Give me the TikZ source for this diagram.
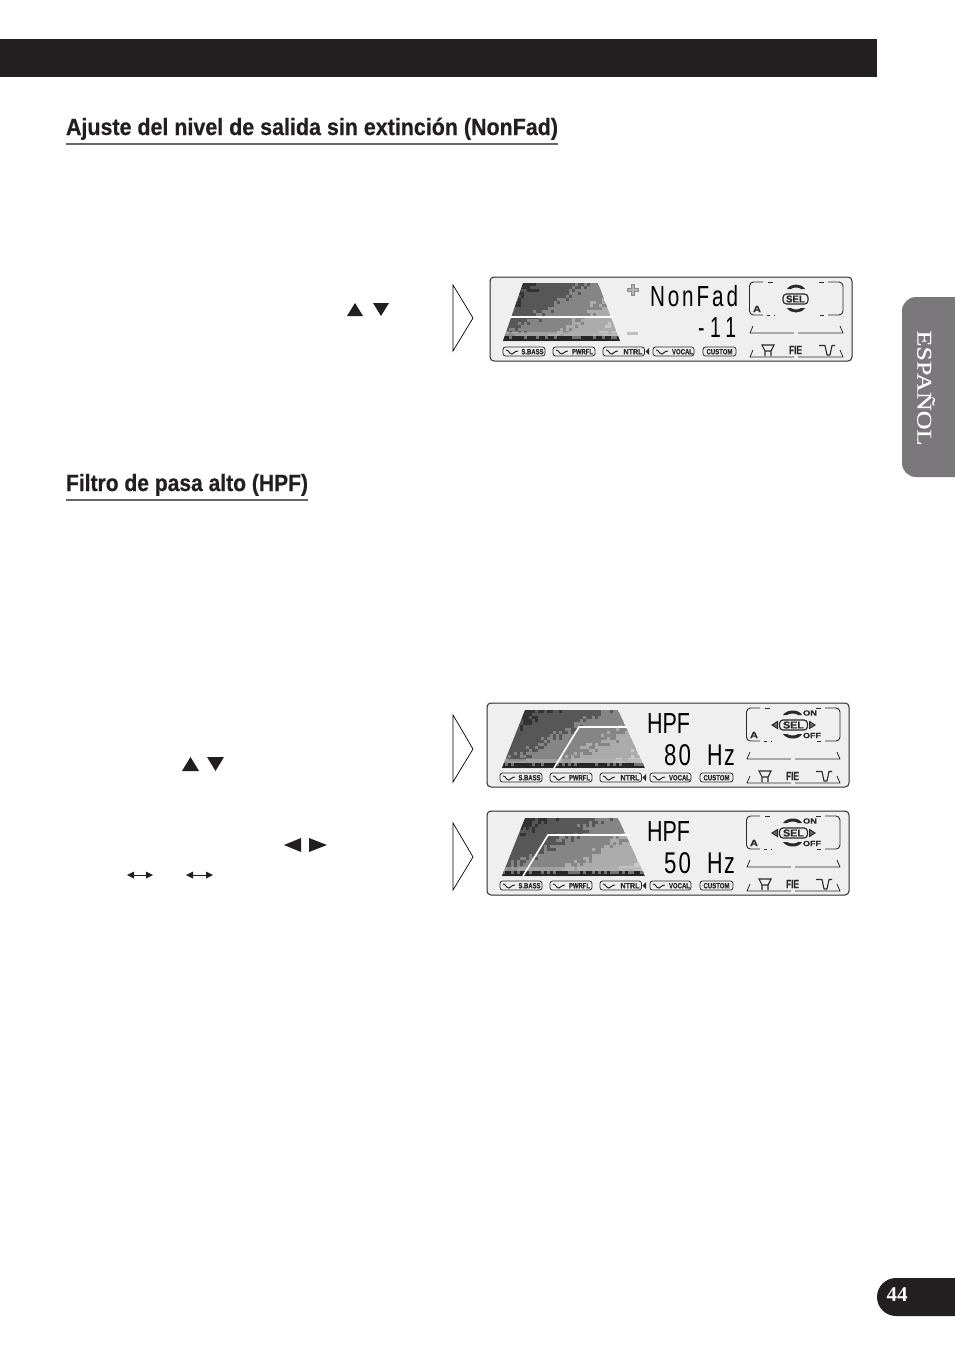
\documentclass[tikz,border=0pt]{standalone}
\usepackage{fontspec}
\usepackage{graphicx}
\setmainfont{Liberation Sans}
\newfontfamily\serifx{Liberation Serif}
\newfontfamily\heavy[BoldFont={* Bold},BoldFeatures={FakeBold=0.6}]{Liberation Sans}
\definecolor{ink}{HTML}{231F20}
\definecolor{tabgray}{HTML}{7A787A}
\definecolor{lcdbg}{HTML}{EFEFEF}
\definecolor{lcdink}{HTML}{2A2A2A}
\newcommand{\fit}[3]{\resizebox{#1pt}{\height}{\fontsize{#2}{#2}\selectfont #3}}
\tikzset{
  x=1pt,y=-1pt,
  txt/.style={inner sep=0pt,outer sep=0pt,text=ink},
  btn/.style={draw=lcdink,line width=.8pt,rounded corners=2.5pt,fill=lcdbg},
  lcdline/.style={draw=lcdink,line width=.8pt},
  chev/.style={draw=black,line width=.7pt,fill=white,line join=miter},
  solidtri/.style={fill=ink,draw=none},
  headrule/.style={draw=black!60,line width=1.4pt},
}
\newcommand{\lcdbtn}[6]{%
  \draw[btn] (#2,70) rectangle (#3,79);
  \draw[lcdink,line width=1pt] (#2+3,73) .. controls (#2+6,73) and (#2+6,77) .. (#2+9,77) .. controls (#2+11,77) and (#2+11,74) .. (#2+15,74);
  \node[txt,text=lcdink,anchor=center] (#1) at (#6,74.7) {\fit{#5}{7.5pt}{\heavy\bfseries #4}};
}
\newcommand{\dither}[8]{%
  \begin{scope}
  \clip (#1,#5) -- (#2,#5) -- (#4,#6) -- (#3,#6) -- cycle;
  \foreach \i in {0,...,#7}{
    \foreach \j in {0,...,#8}{
      \pgfmathsetmacro{\px}{#3+\i*3}
      \pgfmathsetmacro{\py}{#5+\j*3}
      \pgfmathsetmacro{\tv}{\i/#7*1.0+\j/#8*0.72-0.1}
      \pgfmathtruncatemacro{\lv}{max(0,min(4,int(\tv*2.6+0.2+rnd*0.55)))}
      \pgfmathtruncatemacro{\shadev}{ifthenelse(\lv==0,80,ifthenelse(\lv==1,66,ifthenelse(\lv==2,48,ifthenelse(\lv==3,33,22))))}
      \fill[black!\shadev!white] (\px,\py) rectangle +(3.05,3.05);
    }
  }
  \fill[black!30,opacity=.6] (#3,#6-9) rectangle (#4,#6-5);
  \fill[black!85] (#3,#6-5) rectangle (#4,#6);
  \foreach \i in {0,...,#7}{
    \pgfmathsetmacro{\px}{#3+\i*3}
    \pgfmathtruncatemacro{\dotv}{ifthenelse(rnd<(0.2+0.35*\i/#7),1,0)}
    \ifnum\dotv=1
      \fill[black!55] (\px,#6-5) rectangle +(3,2.5);
    \fi
  }
  \end{scope}
}
\newcommand{\rightblock}{%
  \draw[lcdline,line width=.9pt,rounded corners=4pt] (273,5) -- (259.5,5) -- (259.5,38) -- (273,38);
  \draw[lcdline,line width=.9pt,rounded corners=4pt] (338,5) -- (353,5) -- (353,38) -- (338,38);
  \draw[lcdline,line width=.9pt] (278,5) -- (283,5) (329,5) -- (334,5);
  \draw[lcdline,line width=.9pt] (277,38) -- (280,38) (284,38) -- (285,38) (330,38) -- (334,38);
  \node[txt,text=lcdink] (aflag) at (267,32) {\fit{8}{9pt}{\heavy\bfseries A}};
  \draw[lcdline,line join=round] (263,49) -- (260,56) -- (304,56);
  \draw[lcdline,line join=round] (308,56) -- (353,56) -- (350,49);
  \draw[lcdline,line join=round] (263,73) -- (260,80) -- (304,80);
  \draw[lcdline,line join=round] (308,80) -- (353,80) -- (350,73);
  \draw[lcdink,line width=1.1pt] (272,68) -- (284,68) -- (281,74) -- (275,74) -- cycle (275,74) -- (275,79) (281,74) -- (281,79);
  \draw[lcdink,line width=1.1pt,line join=round] (329,68.5) -- (335,68.5) -- (337,78) -- (340,78) -- (342,68.5) -- (345,68.5);
  \node[txt,text=lcdink] (fie) at (305.5,73) {\fit{13}{12pt}{\heavy\bfseries FIE}};
}
\newcommand{\buttonrow}{%
  \lcdbtn{sbass}{13}{55}{S.BASS}{22}{42.5}
  \lcdbtn{pwrfl}{63}{105}{PWRFL}{21}{92.5}
  \lcdbtn{ntrl}{113}{154.5}{NTRL}{19}{143}
  \fill[lcdink] (155.5,74.5) -- (159,71) -- (159,78) -- cycle;
  \lcdbtn{vocal}{163}{204}{VOCAL}{21}{192.5}
  \draw[btn] (213,70) rectangle (246,79);
  \node[txt,text=lcdink] (custom) at (229.5,74.7) {\fit{26}{7.5pt}{\heavy\bfseries CUSTOM}};
}
\newcommand{\hpfsel}{%
  \node[txt,text=lcdink,draw=lcdink,line width=1.2pt,rounded corners=3.5pt,minimum width=28pt,minimum height=10pt] (sel) at (306.5,22) {\fit{21}{10pt}{\heavy\bfseries SEL}};
  \fill[lcdink] (296,12) .. controls (300,6) and (312,6) .. (315,12) -- (311,12) .. controls (309,10) and (303,10) .. (300,12) -- cycle;
  \fill[lcdink] (296,31) .. controls (300,37) and (312,37) .. (315,31) -- (311,31) .. controls (309,33) and (303,33) .. (300,31) -- cycle;
  \draw[lcdink,line width=1pt,fill=lcdink!70] (285,22) -- (290.5,18.5) -- (290.5,25.5) -- cycle;
  \draw[lcdink,line width=1pt,fill=lcdink!70] (328,22) -- (322.5,18.5) -- (322.5,25.5) -- cycle;
  \node[txt,text=lcdink] (on) at (323,10) {\fit{14}{7.5pt}{\heavy\bfseries ON}};
  \node[txt,text=lcdink] (off) at (325,32.5) {\fit{18}{7.5pt}{\heavy\bfseries OFF}};
}
\newcommand{\lcdframe}{%
  \draw[draw=lcdink,line width=1pt,fill=lcdbg,rounded corners=4pt] (0,0) rectangle (362,84);
}
\begin{document}
\begin{tikzpicture}
\useasboundingbox (0,0) rectangle (954,1355);
\fill[white] (0,0) rectangle (954,1355);
\fill[ink] (0,39) rectangle (877,77);
\node[txt,anchor=base west] (h1) at (66,135) {\fit{492}{23.5pt}{\heavy\bfseries Ajuste del nivel de salida sin extinción (NonFad)}};
\draw[headrule] (66,144) -- (558,144);
\node[txt,anchor=base west] (h2) at (66,491) {\fit{242}{23.5pt}{\heavy\bfseries Filtro de pasa alto (HPF)}};
\draw[headrule] (66,500) -- (308,500);
% side tab
\fill[tabgray,rounded corners=14pt] (980,297) -- (902,297) -- (902,477) -- (980,477) -- cycle;
\node[txt,text=white,rotate=-90,anchor=center] (tab) at (926,388) {\fit{115}{21pt}{\serifx\addfontfeature{FakeBold=0.3}ESPAÑOL}};
% page tab
\fill[ink,rounded corners=19pt] (1000,1278) -- (877,1278) -- (877,1316) -- (1000,1316) -- cycle;
\node[txt,text=white,anchor=center] (pg) at (897,1295) {\fontsize{21}{21}\selectfont\serifx\bfseries 44};
% chevrons
\draw[chev] (453,285) -- (473,318) -- (453,351) -- cycle;
\draw[chev] (453,715) -- (473,749) -- (453,782) -- cycle;
\draw[chev] (453,823) -- (473,857) -- (453,890) -- cycle;
% solid symbols
\fill[solidtri] (347,316) -- (355,303) -- (363,316) -- cycle;
\fill[solidtri] (373,303) -- (389,303) -- (381,316) -- cycle;
\fill[solidtri] (182,771) -- (190.5,757) -- (199,771) -- cycle;
\fill[solidtri] (207,757) -- (224,757) -- (215.5,771) -- cycle;
\fill[solidtri] (284,845) -- (301,838) -- (301,852) -- cycle;
\fill[solidtri] (309,838) -- (327,845) -- (309,852) -- cycle;
\foreach \xa/\xb in {127/153,186/213}{
  \draw[ink,line width=1pt] (\xa+3,875) -- (\xb-3,875);
  \fill[ink] (\xa,875) -- (\xa+7,871.5) -- (\xa+7,878.5) -- cycle;
  \fill[ink] (\xb,875) -- (\xb-7,871.5) -- (\xb-7,878.5) -- cycle;
}
\pgfmathsetseed{7}
% === display 1
\begin{scope}[shift={(490,277)},name prefix=a-]
  \lcdframe
  \dither{33}{108}{13}{130}{6}{64}{39}{19}
  \draw[white,line width=1.6pt] (20,40) -- (123,40);
  \buttonrow
  \rightblock
  \draw[lcdink!55,line width=1pt,fill=lcdink!35] (141.5,7.5) -- (144.5,7.5) -- (144.5,11.5) -- (148.5,11.5) -- (148.5,14) -- (144.5,14) -- (144.5,18) -- (141.5,18) -- (141.5,14) -- (137.5,14) -- (137.5,11.5) -- (141.5,11.5) -- cycle;
  \fill[black!25] (137,54.5) rectangle (148,57.5);
  \node[txt,text=black,anchor=base west] (v1) at (160,29) {\fit{88}{29pt}{\addfontfeature{LetterSpace=14}NonFad}};
  \node[txt,text=black,anchor=base east] (v2) at (246,60) {\fit{38}{29pt}{\addfontfeature{LetterSpace=30}-11}};
  \node[txt,text=lcdink,draw=lcdink,line width=1.2pt,rounded corners=3.5pt,minimum width=25pt,minimum height=10pt] (sel) at (305.5,22) {\fit{19}{10pt}{\heavy\bfseries SEL}};
  \fill[lcdink] (297,12) .. controls (301,6) and (311,6) .. (315,12) -- (311,12) .. controls (309,10) and (303,10) .. (301,12) -- cycle;
  \fill[lcdink] (297,31) .. controls (301,37) and (311,37) .. (315,31) -- (311,31) .. controls (309,33) and (303,33) .. (301,31) -- cycle;
\end{scope}
% === display 2
\begin{scope}[shift={(487,703)},name prefix=b-]
  \lcdframe
  \dither{38}{131}{15}{158}{7}{65}{48}{19}
  \draw[white,line width=1.6pt] (67,65) -- (92,24) -- (141,24);
  \buttonrow
  \rightblock
  \node[txt,text=black,anchor=base west] (v1) at (160,30) {\fit{43}{29pt}{HPF}};
  \node[txt,text=black,anchor=base west] (v2) at (177,62) {\fit{27}{30pt}{\addfontfeature{LetterSpace=10}80}};
  \node[txt,text=black,anchor=base west] (v3) at (220,62) {\fit{28}{30pt}{\addfontfeature{LetterSpace=8}Hz}};
  \hpfsel
\end{scope}
% === display 3
\begin{scope}[shift={(487,811)},name prefix=c-]
  \lcdframe
  \dither{38}{131}{15}{158}{7}{65}{48}{19}
  \draw[white,line width=1.6pt] (36,65) -- (61,24) -- (143,24);
  \buttonrow
  \rightblock
  \node[txt,text=black,anchor=base west] (v1) at (160,30) {\fit{43}{29pt}{HPF}};
  \node[txt,text=black,anchor=base west] (v2) at (177,62) {\fit{27}{30pt}{\addfontfeature{LetterSpace=10}50}};
  \node[txt,text=black,anchor=base west] (v3) at (220,62) {\fit{28}{30pt}{\addfontfeature{LetterSpace=8}Hz}};
  \hpfsel
\end{scope}
\end{tikzpicture}
\end{document}
